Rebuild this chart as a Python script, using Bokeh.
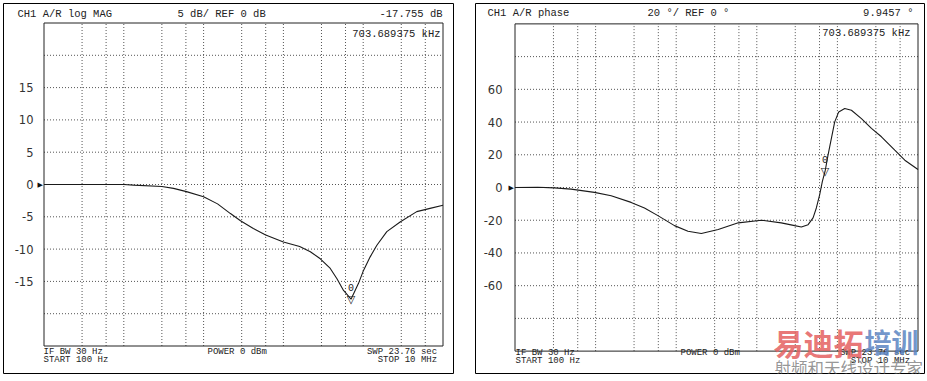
import math
from bokeh.plotting import figure
from bokeh.models import Range1d, Label
from bokeh.layouts import row
from bokeh.embed import file_html
from bokeh.resources import INLINE
from bokeh.core.properties import value

# ---------------- data ----------------
START_HZ = 100
STOP_HZ = 10e6
N_DIV = 10
GRID_FREQS_HZ = [3e2, 6e2, 1e3, 3e3, 6e3, 1e4, 3e4, 6e4, 1e5, 3e5, 6e5, 1e6, 3e6, 6e6]

MAG_REF_DB = 0
MAG_DB_PER_DIV = 5
MAG_TICKS = [15, 10, 5, 0, -5, -10, -15]
MAG_FREQ_HZ = [100, 300, 1000, 1330, 3000, 4200, 6100, 10000, 14960, 21700, 29000,
               42000, 60000, 100000, 160000, 217500, 290000, 386800, 469000, 567000,
               703689.375, 873500, 1009000, 1223000, 1483000, 1977000, 2900000,
               4690000, 6880000, 10000000]
MAG_DB = [0.0, 0.0, 0.0, -0.1, -0.3, -0.6, -1.1, -1.9, -3.0, -4.5, -5.6,
          -6.8, -7.8, -8.9, -9.6, -10.4, -11.5, -13.0, -14.6, -16.4,
          -17.755, -15.3, -13.3, -11.2, -9.4, -7.3, -5.8,
          -4.2, -3.7, -3.2]
MAG_MARKER_HZ = 703689.375
MAG_MARKER_DB = -17.755

PH_REF_DEG = 0
PH_DEG_PER_DIV = 20
PH_TICKS = [60, 40, 20, 0, -20, -40, -60]
PH_FREQ_HZ = [100, 191, 308, 496, 967, 1560, 2760, 4040, 5930, 9520, 14000, 20500,
              33200, 58900, 114000, 201000, 295000, 357000, 433000, 499000, 548000,
              603000, 651000, 703689.375, 766000, 842000, 926000, 1038000, 1233000,
              1493000, 1987000, 2644000, 3520000, 5150000, 6860000, 10000000]
PH_DEG = [0.0, 0.2, -0.2, -1.0, -3.0, -5.0, -9.1, -12.5, -17.2, -23.3, -26.7, -28.1,
          -25.7, -21.6, -20.0, -21.6, -23.3, -24.1, -22.7, -18.6, -12.5,
          -4.4, 3.7, 9.9457, 19.9, 30.0, 40.1, 46.2, 48.3,
          47.2, 42.1, 36.1, 31.0, 22.8, 16.7, 11.0]
PH_MARKER_HZ = 703689.375
PH_MARKER_DEG = 9.9457

# ---------------- layout (reference pixels == page pixels) ----------------
W1, W2, H = 464, 463, 381
MONO = value("Liberation Mono")
SANS = value("DejaVu Sans")
CJK = "Noto Sans CJK SC"


def panel(width, page_left, outer, inner, ref, per_div, ticks, tick_right,
          freqs, vals, mk_f, mk_v, texts, extra=None):
    fl = outer[0] - page_left; fr = outer[2] - page_left
    ft = outer[1]; fb = outer[3]
    il = inner[0] - page_left + 0.5
    ir = inner[2] - page_left + 0.5
    it = inner[1] + 0.5
    ib = inner[3] + 0.5
    half = per_div * N_DIV / 2
    lo, hi = ref - half, ref + half
    l0, l1 = math.log10(START_HZ), math.log10(STOP_HZ)
    dpx = (l1 - l0) / (ir - il)
    lxs = l0 - (il - fl) * dpx
    lxe = l1 + (fr - ir) * dpx
    upx = (hi - lo) / (ib - it)
    ye = hi + (it - ft) * upx
    ys = lo - (fb - ib) * upx

    def dx(X):
        c = X - page_left
        return 10 ** (lxs + (c - fl) / (fr - fl) * (lxe - lxs))

    def dy(Y):
        return ye - (Y - ft) / (fb - ft) * (ye - ys)

    p = figure(width=width, height=H, output_backend="svg", toolbar_location=None,
               x_axis_type="log", x_axis_location=None, y_axis_location=None,
               x_range=Range1d(10 ** lxs, 10 ** lxe), y_range=Range1d(ys, ye),
               min_border_left=fl, min_border_right=width - fr,
               min_border_top=ft, min_border_bottom=H - fb)
    p.grid.visible = False
    p.outline_line_color = "#000000"
    p.outline_line_width = 1
    p.background_fill_color = "white"
    p.border_fill_color = "white"

    # dotted graticule
    n = len(GRID_FREQS_HZ)
    p.segment(x0=GRID_FREQS_HZ, y0=[lo] * n, x1=GRID_FREQS_HZ, y1=[hi] * n,
              line_color="#555555", line_width=1, line_dash="1 2")
    hv = [ref + k * per_div for k in range(-(N_DIV // 2) + 1, N_DIV // 2)]
    p.segment(x0=[START_HZ] * len(hv), y0=hv, x1=[STOP_HZ] * len(hv), y1=hv,
              line_color="#555555", line_width=1, line_dash="1 2")
    # graticule box
    p.quad(left=[START_HZ], right=[STOP_HZ], bottom=[lo], top=[hi],
           fill_color=None, line_color="#222222", line_width=1)

    # trace
    p.line(freqs, vals, line_color="#1a1a1a", line_width=1.1)

    # marker
    p.text(x=[mk_f], y=[mk_v], text=["▽"], text_font=SANS, text_font_size="11px",
           text_align="center", text_baseline="alphabetic", text_color="#222222")
    p.text(x=[mk_f], y=[mk_v], text=["0"], text_font=MONO, text_font_size="10px",
           text_align="center", text_baseline="bottom", y_offset=-8,
           text_color="#222222")

    # y tick labels and reference arrow
    p.text(x=[dx(tick_right)] * len(ticks), y=ticks, text=[str(t) for t in ticks],
           text_font=SANS, text_font_size="11.5px", text_align="right",
           text_baseline="middle", text_color="#333333")
    p.text(x=[START_HZ], y=[ref], text=["▶"], text_font=SANS, text_font_size="7px",
           text_align="right", text_baseline="middle", x_offset=-1,
           text_color="#111111")

    # annotations
    for (X, Y, s, align, size) in texts:
        p.text(x=[dx(X)], y=[dy(Y)], text=[s], text_font=MONO,
               text_font_size=size, text_align=align, text_baseline="middle",
               text_color="#222222")
    if extra:
        for (X, Y, s, color, size, style, alpha) in extra:
            p.add_layout(Label(x=dx(X), y=dy(Y), text=s, text_font=CJK,
                               text_font_size=size, text_font_style=style,
                               text_align="left", text_baseline="middle",
                               text_color=color, text_alpha=alpha))
    return p


left_texts = [
    (17, 13, "CH1 A/R  log MAG", "left", "10.5px"),
    (177, 13, f"{MAG_DB_PER_DIV} dB/ REF {MAG_REF_DB} dB", "left", "10.5px"),
    (442, 13, f"{MAG_MARKER_DB} dB", "right", "10.5px"),
    (440, 33, f"{MAG_MARKER_HZ / 1e3} kHz", "right", "10.5px"),
    (43, 351, "IF BW 30 Hz", "left", "9px"),
    (43, 359.5, "START  100 Hz", "left", "9px"),
    (207, 351, "POWER  0 dBm", "left", "9px"),
    (442, 351, "SWP  23.76 sec", "right", "9px"),
    (442, 359.5, "STOP  10 MHz", "right", "9px"),
]
right_texts = [
    (487, 13, "CH1 A/R  phase", "left", "10.5px"),
    (647, 13, f"{PH_DEG_PER_DIV} °/ REF {PH_REF_DEG} °", "left", "10.5px"),
    (913, 13, f"{PH_MARKER_DEG} °", "right", "10.5px"),
    (910, 33, f"{PH_MARKER_HZ / 1e3} kHz", "right", "10.5px"),
    (515, 354, "IF BW 30 Hz", "left", "9px"),
    (515, 362.5, "START  100 Hz", "left", "9px"),
    (680, 354, "POWER  0 dBm", "left", "9px"),
    (915, 354, "SWP  23.76 sec", "right", "9px"),
    (915, 362.5, "STOP  10 MHz", "right", "9px"),
]
watermark = [
    (773, 343, "易迪拓", "#e4605f", "30px", "bold", 0.85),
    (864, 343, "培训", "#5b84c2", "27px", "bold", 0.85),
    (774, 369, "射频和天线设计专家", "#8a8a8a", "16.5px", "normal", 0.9),
]

p1 = panel(W1, 0, (3, 3, 453, 373), (43, 22, 442, 345), MAG_REF_DB, MAG_DB_PER_DIV,
           MAG_TICKS, 33, MAG_FREQ_HZ, MAG_DB, MAG_MARKER_HZ, MAG_MARKER_DB, left_texts)
p2 = panel(W2, W1, (475, 3, 924, 375), (514, 23, 917, 352), PH_REF_DEG, PH_DEG_PER_DIV,
           PH_TICKS, 502, PH_FREQ_HZ, PH_DEG, PH_MARKER_HZ, PH_MARKER_DEG, right_texts,
           watermark)

layout = row(p1, p2)
open("out.html", "w").write(file_html(layout, INLINE))
